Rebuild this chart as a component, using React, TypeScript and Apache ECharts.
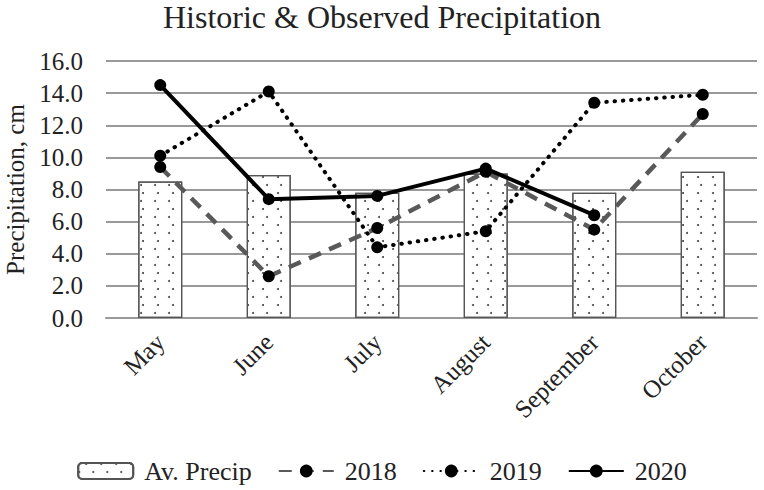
import React, { useEffect, useRef } from "react";
import * as echarts from "echarts";

const categories = ["May", "June", "July", "August", "September", "October"];
const avPrecip = [8.5, 8.9, 7.8, 9.0, 7.8, 9.1];
const s2018 = [9.4, 2.6, 5.6, 9.1, 5.5, 12.7];
const s2019 = [10.1, 14.1, 4.4, 5.4, 13.4, 13.9];
const s2020: (number | null)[] = [14.5, 7.4, 7.6, 9.3, 6.4, null];
const yTicks = { min: 0, max: 16, interval: 2 };

const FONT = "Liberation Serif";

export default function App() {
  const ref = useRef<HTMLDivElement>(null);
  useEffect(() => {
    document.body.style.margin = "0";
    if (!ref.current) return;
    const chart = echarts.init(ref.current, null, { renderer: "svg" });
    chart.setOption({
      animation: false,
      backgroundColor: "#fff",
      textStyle: { fontFamily: FONT, color: "#222" },
      title: {
        text: "Historic & Observed Precipitation",
        left: "center",
        top: -4,
        textStyle: { fontFamily: FONT, fontSize: 32, fontWeight: "normal", color: "#222" },
      },
      grid: {
        left: 106,
        right: 7,
        top: 61,
        bottom: 172,
        containLabel: false,
        outerBoundsMode: "none",
      },
      legend: {
        bottom: 1,
        left: "center",
        itemGap: 26,
        itemWidth: 55,
        itemHeight: 16,
        textStyle: { fontFamily: FONT, fontSize: 26, color: "#222", padding: [0, 0, 0, 6] },
        data: ["Av. Precip", "2018", "2019", "2020"],
      },
      xAxis: {
        type: "category",
        data: categories,
        axisLine: { show: true, lineStyle: { color: "#999", width: 2 } },
        axisTick: { show: false },
        axisLabel: { rotate: 45, fontFamily: FONT, fontSize: 25, color: "#222", margin: 20 },
      },
      yAxis: {
        type: "value",
        min: yTicks.min,
        max: yTicks.max,
        interval: yTicks.interval,
        name: "Precipitation, cm",
        nameLocation: "middle",
        nameGap: 77,
        nameTextStyle: { fontFamily: FONT, fontSize: 25, color: "#222" },
        axisLine: { show: false },
        axisTick: { show: false },
        splitLine: { lineStyle: { color: "#999", width: 2 } },
        axisLabel: {
          fontFamily: FONT,
          fontSize: 25,
          color: "#222",
          margin: 23,
          formatter: (v: number) => v.toFixed(1),
        },
      },
      series: [
        {
          name: "Av. Precip",
          type: "bar",
          data: avPrecip,
          barWidth: 44,
          itemStyle: {
            color: "#fff",
            borderColor: "#555",
            borderWidth: 1.2,
            decal: {
              symbol: "circle",
              symbolSize: 1,
              color: "#444",
              backgroundColor: "#fff",
              dashArrayX: [[1.6, 11.8], [0, 6.7, 1.6, 5.1]],
              dashArrayY: [1.6, 5.1],
            },
          },
          z: 1,
        },
        {
          name: "2018",
          type: "line",
          data: s2018,
          symbol: "circle",
          symbolSize: 12,
          itemStyle: { color: "#000" },
          lineStyle: { color: "#595959", width: 4.5, type: [13, 9] },
          z: 3,
        },
        {
          name: "2019",
          type: "line",
          data: s2019,
          symbol: "circle",
          symbolSize: 12,
          itemStyle: { color: "#000" },
          lineStyle: { color: "#000", width: 4, type: [0.5, 7.8], cap: "round" },
          z: 3,
        },
        {
          name: "2020",
          type: "line",
          data: s2020,
          symbol: "circle",
          symbolSize: 12,
          connectNulls: false,
          itemStyle: { color: "#000" },
          lineStyle: { color: "#000", width: 4 },
          z: 4,
        },
      ],
    });
    return () => chart.dispose();
  }, []);
  return <div ref={ref} style={{ width: 764, height: 490 }} />;
}
